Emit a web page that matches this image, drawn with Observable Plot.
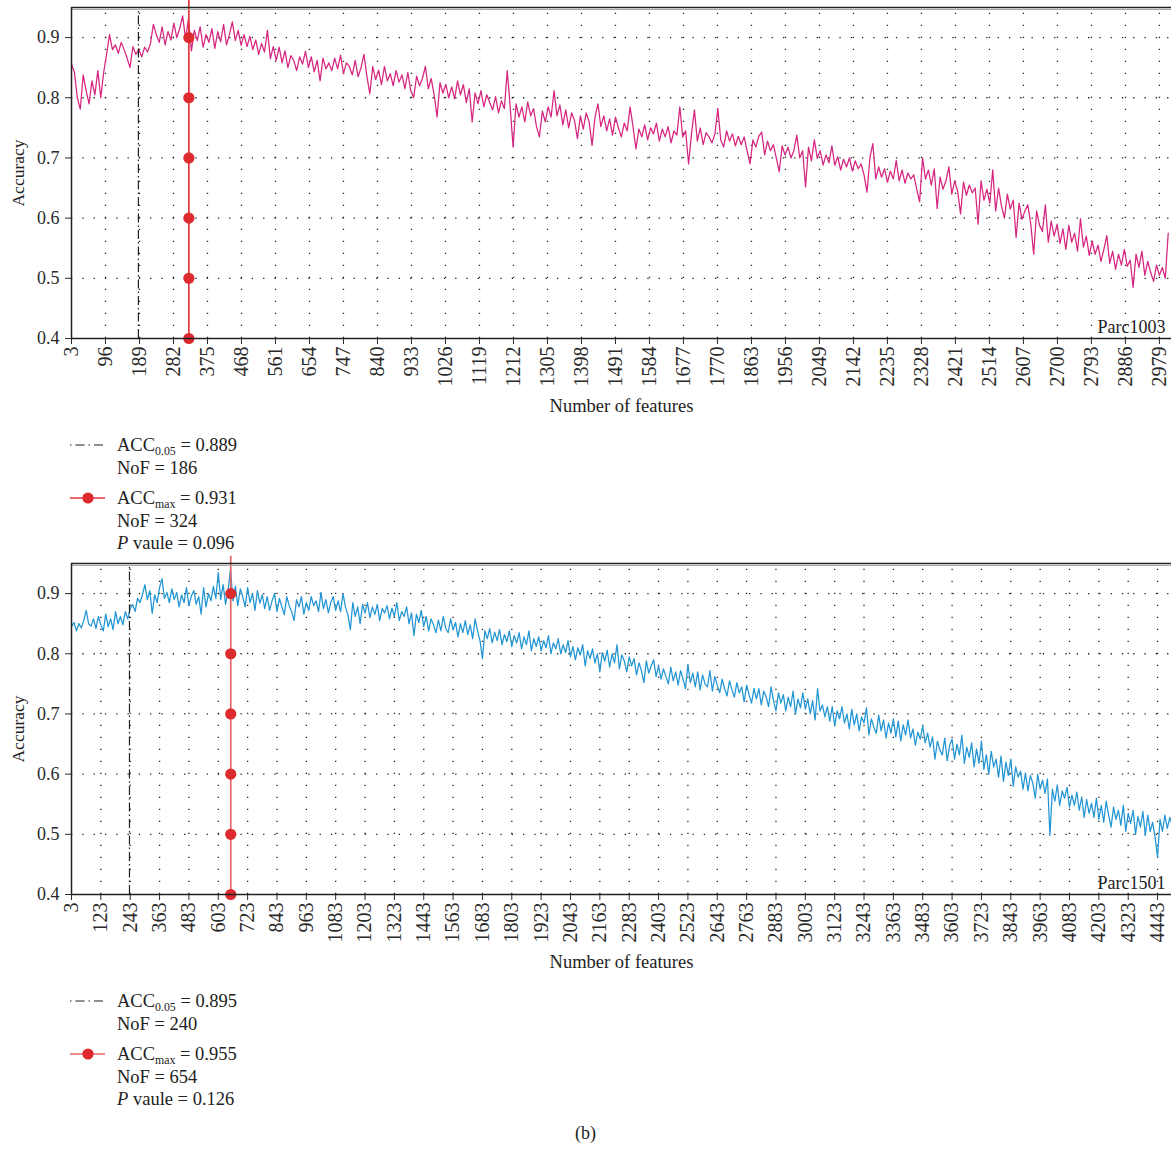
<!DOCTYPE html>
<html>
<head>
<meta charset="utf-8">
<script src="https://cdn.jsdelivr.net/npm/d3@7"></script>
<script src="https://cdn.jsdelivr.net/npm/@observablehq/plot@0.6"></script>
<style>
  html, body { margin: 0; padding: 0; background: #fff; }
  body { width: 1171px; height: 1149px; position: relative; overflow: hidden; font-family: "Liberation Serif", "DejaVu Serif", serif; color: #222; }
  .blk { position: absolute; left: 0; width: 1171px; }
  .leg { height: 136px; }
  .leg .txt { position: absolute; left: 117px; font-size: 18.5px; line-height: 22.5px; white-space: nowrap; }
  .leg sub { font-size: 0.64em; vertical-align: baseline; position: relative; top: 0.32em; line-height: 0; }
  .cap { font-size: 18px; text-align: center; }
</style>
</head>
<body>
<div id="p1" class="blk" style="top:0"></div>
<div id="l1" class="blk leg" style="top:420px"></div>
<div id="p2" class="blk" style="top:556px"></div>
<div id="l2" class="blk leg" style="top:976px"></div>
<div class="blk cap" style="top:1123px">(b)</div>
<script>
// ---------- data ----------
// Parc1003: accuracy read every 8 features, starting at 3 features
const step1003 = 8;
const acc1003 = [
  0.856,0.842,0.800,0.781,0.838,0.812,0.790,0.828,0.805,0.845,
  0.800,0.842,0.872,0.905,0.880,0.888,0.874,0.892,0.880,0.866,
  0.850,0.885,0.872,0.880,0.868,0.884,0.876,0.890,0.922,0.905,
  0.892,0.918,0.888,0.910,0.896,0.924,0.900,0.915,0.936,0.898,
  0.931,0.878,0.912,0.895,0.918,0.884,0.905,0.892,0.915,0.882,
  0.910,0.893,0.922,0.888,0.905,0.926,0.895,0.912,0.887,0.905,
  0.885,0.902,0.880,0.896,0.872,0.890,0.876,0.912,0.865,0.885,
  0.862,0.884,0.858,0.878,0.850,0.870,0.862,0.845,0.868,0.856,
  0.877,0.850,0.868,0.843,0.862,0.828,0.866,0.848,0.858,0.845,
  0.866,0.848,0.871,0.840,0.858,0.852,0.838,0.862,0.835,0.850,
  0.872,0.836,0.807,0.852,0.830,0.846,0.822,0.852,0.828,0.840,
  0.820,0.845,0.826,0.838,0.815,0.842,0.812,0.800,0.836,0.820,
  0.832,0.852,0.815,0.832,0.805,0.768,0.825,0.808,0.822,0.800,
  0.818,0.798,0.828,0.805,0.822,0.792,0.815,0.760,0.808,0.790,
  0.812,0.785,0.805,0.792,0.780,0.802,0.775,0.795,0.782,0.845,
  0.785,0.718,0.790,0.768,0.785,0.760,0.793,0.770,0.782,0.752,
  0.735,0.778,0.760,0.785,0.768,0.812,0.770,0.788,0.755,0.780,
  0.750,0.775,0.762,0.732,0.770,0.748,0.775,0.760,0.721,0.768,
  0.790,0.752,0.770,0.745,0.765,0.738,0.768,0.750,0.735,0.758,
  0.745,0.785,0.752,0.715,0.748,0.735,0.755,0.730,0.750,0.740,
  0.758,0.728,0.748,0.735,0.752,0.725,0.745,0.738,0.785,0.735,
  0.745,0.690,0.740,0.780,0.728,0.750,0.722,0.742,0.735,0.725,
  0.740,0.782,0.730,0.718,0.745,0.728,0.740,0.720,0.736,0.722,
  0.735,0.712,0.690,0.730,0.718,0.736,0.743,0.705,0.728,0.712,
  0.722,0.700,0.677,0.720,0.705,0.718,0.700,0.712,0.738,0.700,
  0.712,0.652,0.718,0.695,0.730,0.700,0.712,0.688,0.705,0.692,
  0.720,0.688,0.702,0.680,0.698,0.685,0.700,0.678,0.695,0.682,
  0.690,0.672,0.643,0.700,0.724,0.665,0.685,0.668,0.682,0.660,
  0.678,0.665,0.696,0.662,0.680,0.658,0.675,0.665,0.672,0.648,
  0.627,0.700,0.665,0.680,0.655,0.682,0.616,0.668,0.648,0.662,
  0.685,0.640,0.662,0.645,0.607,0.660,0.638,0.655,0.642,0.650,
  0.590,0.662,0.630,0.648,0.625,0.680,0.612,0.650,0.620,0.600,
  0.640,0.615,0.630,0.568,0.625,0.598,0.612,0.622,0.590,0.540,
  0.612,0.588,0.578,0.622,0.560,0.595,0.570,0.590,0.558,0.582,
  0.548,0.588,0.560,0.575,0.545,0.599,0.552,0.570,0.538,0.562,
  0.540,0.555,0.528,0.548,0.571,0.525,0.545,0.515,0.540,0.522,
  0.548,0.520,0.530,0.485,0.540,0.518,0.545,0.505,0.528,0.510,
  0.495,0.522,0.505,0.518,0.500,0.575
];
// Parc1501: accuracy read every 10 features, starting at 3 features
const step1501 = 10;
const acc1501 = [
  0.845,0.852,0.838,0.850,0.843,0.855,0.872,0.850,0.846,0.858,
  0.842,0.862,0.848,0.838,0.866,0.845,0.858,0.840,0.870,0.850,
  0.862,0.848,0.870,0.858,0.875,0.882,0.870,0.892,0.885,0.898,
  0.915,0.890,0.905,0.867,0.898,0.885,0.910,0.925,0.892,0.902,
  0.885,0.908,0.890,0.902,0.878,0.898,0.885,0.910,0.880,0.896,
  0.905,0.882,0.895,0.866,0.910,0.878,0.900,0.888,0.912,0.892,
  0.935,0.890,0.915,0.882,0.905,0.940,0.888,0.912,0.880,0.908,
  0.895,0.878,0.910,0.885,0.900,0.872,0.905,0.884,0.898,0.875,
  0.895,0.872,0.888,0.900,0.870,0.892,0.878,0.865,0.895,0.880,
  0.870,0.855,0.890,0.878,0.895,0.866,0.885,0.872,0.895,0.880,
  0.888,0.870,0.902,0.875,0.890,0.868,0.885,0.895,0.872,0.888,
  0.870,0.900,0.878,0.865,0.840,0.885,0.862,0.878,0.850,0.882,
  0.868,0.885,0.860,0.878,0.865,0.882,0.855,0.875,0.868,0.880,
  0.858,0.876,0.862,0.885,0.855,0.870,0.862,0.878,0.850,0.868,
  0.830,0.866,0.852,0.872,0.845,0.862,0.838,0.858,0.848,0.835,
  0.856,0.838,0.862,0.842,0.835,0.858,0.840,0.852,0.828,0.850,
  0.835,0.855,0.832,0.848,0.825,0.858,0.838,0.822,0.792,0.838,
  0.825,0.842,0.818,0.836,0.822,0.840,0.815,0.832,0.820,0.838,
  0.812,0.830,0.818,0.835,0.808,0.828,0.815,0.838,0.805,0.825,
  0.812,0.828,0.805,0.822,0.810,0.830,0.800,0.818,0.808,0.825,
  0.800,0.815,0.802,0.822,0.795,0.812,0.790,0.810,0.798,0.815,
  0.780,0.805,0.792,0.808,0.785,0.800,0.770,0.802,0.788,0.806,
  0.778,0.800,0.785,0.815,0.775,0.798,0.788,0.770,0.795,0.780,
  0.792,0.765,0.785,0.772,0.752,0.788,0.768,0.780,0.790,0.762,
  0.780,0.758,0.775,0.762,0.750,0.778,0.755,0.770,0.748,0.772,
  0.758,0.742,0.782,0.752,0.768,0.745,0.770,0.740,0.765,0.750,
  0.745,0.772,0.738,0.762,0.748,0.735,0.758,0.742,0.730,0.755,
  0.740,0.728,0.752,0.735,0.745,0.720,0.748,0.732,0.718,0.742,
  0.725,0.742,0.715,0.738,0.728,0.712,0.745,0.722,0.705,0.735,
  0.718,0.732,0.705,0.728,0.712,0.738,0.700,0.725,0.710,0.735,
  0.708,0.725,0.700,0.722,0.690,0.742,0.705,0.715,0.695,0.712,
  0.688,0.712,0.680,0.705,0.692,0.712,0.685,0.700,0.675,0.708,
  0.682,0.700,0.672,0.695,0.685,0.710,0.665,0.692,0.678,0.668,
  0.698,0.672,0.690,0.660,0.685,0.668,0.692,0.662,0.688,0.655,
  0.682,0.665,0.690,0.660,0.675,0.648,0.670,0.658,0.680,0.652,
  0.668,0.645,0.662,0.625,0.655,0.640,0.632,0.660,0.622,0.648,
  0.658,0.625,0.650,0.632,0.665,0.618,0.645,0.628,0.652,0.612,
  0.642,0.618,0.655,0.608,0.632,0.600,0.638,0.612,0.625,0.595,
  0.630,0.588,0.620,0.598,0.625,0.580,0.612,0.595,0.605,0.575,
  0.602,0.572,0.598,0.585,0.560,0.600,0.575,0.590,0.568,0.592,
  0.498,0.575,0.555,0.582,0.548,0.572,0.560,0.578,0.545,0.565,
  0.548,0.570,0.540,0.562,0.528,0.558,0.535,0.552,0.528,0.560,
  0.525,0.548,0.520,0.555,0.532,0.512,0.545,0.525,0.540,0.515,
  0.548,0.505,0.535,0.518,0.540,0.500,0.530,0.512,0.538,0.498,
  0.532,0.505,0.520,0.495,0.462,0.525,0.505,0.532,0.510,0.528,
  0.515
];
const ticks1003 = [3,96,189,282,375,468,561,654,747,840,933,1026,1119,1212,1305,1398,1491,1584,1677,1770,1863,1956,2049,2142,2235,2328,2421,2514,2607,2700,2793,2886,2979];
const ticks1501 = [3,123,243,363,483,603,723,843,963,1083,1203,1323,1443,1563,1683,1803,1923,2043,2163,2283,2403,2523,2643,2763,2883,3003,3123,3243,3363,3483,3603,3723,3843,3963,4083,4203,4323,4443];
const yTicks = [0.4,0.5,0.6,0.7,0.8,0.9];
const legend1003 = { acc05: "0.889", nof05: 186, accMax: "0.931", nofMax: 324, p: "0.096" };
const legend1501 = { acc05: "0.895", nof05: 240, accMax: "0.955", nofMax: 654, p: "0.126" };

// ---------- drawing ----------
const RED = "#dc2a2e";
function panel({acc, step, maxX, ticks, color, leg, name, redLine}) {
  const data = acc.map((v, i) => ({nof: 3 + i * step, acc: v}));
  const svg = Plot.plot({
    width: 1171, height: 420,
    marginLeft: 71, marginRight: 0, marginTop: 7, marginBottom: 82,
    style: {fontFamily: "Liberation Serif, serif", fontSize: "18px", color: "#2a2a2a", background: "#fff", overflow: "visible"},
    x: {domain: [3, maxX], ticks, tickFormat: "d", tickRotate: -90, tickSize: 6, tickPadding: 2, label: null},
    y: {domain: [0.4, 0.95], ticks: yTicks, tickFormat: ".1f", tickSize: 6, tickPadding: 6, label: null},
    marks: [
      Plot.ruleX(ticks.slice(1), {y1: 0.4, y2: 0.95, stroke: "#222", strokeWidth: 1.3, strokeDasharray: "1.3,10.7"}),
      Plot.ruleY(yTicks.slice(1), {stroke: "#222", strokeWidth: 1.3, strokeDasharray: "1.3,10"}),
      Plot.line(data, {x: "nof", y: "acc", stroke: color, strokeWidth: 1.25, clip: true}),
      Plot.ruleX([leg.nof05], {y1: 0.4, y2: 0.95, stroke: "#222", strokeWidth: 1.2, strokeDasharray: "9,3,1.5,3"}),
      Plot.ruleX([leg.nofMax], {y1: 0.4, y2: 0.962, stroke: redLine, strokeWidth: 1.7}),
      Plot.dot(yTicks.map(y => ({x: leg.nofMax, y})), {x: "x", y: "y", r: 5.6, fill: RED, stroke: "none"}),
      Plot.ruleY([0.95], {stroke: "#aaa", strokeWidth: 1, dy: 2}),
      Plot.ruleY([0.95], {stroke: "#222", strokeWidth: 1.5}),
      Plot.ruleY([0.4], {stroke: "#222", strokeWidth: 1.5}),
      Plot.ruleX([3], {y1: 0.4, y2: 0.95, stroke: "#222", strokeWidth: 1.5}),
      Plot.text([name], {frameAnchor: "bottom-right", dx: -6, dy: -6, textAnchor: "end", fontSize: 18, fill: "#222"}),
      Plot.text(["Number of features"], {frameAnchor: "bottom", dy: 73, textAnchor: "middle", fontSize: 18.5, fill: "#222"}),
      Plot.text(["Accuracy"], {frameAnchor: "left", dx: -53, rotate: -90, textAnchor: "middle", fontSize: 17.5, fill: "#222"})
    ]
  });
  // enlarge the axis tick labels (x: integers, y: one-decimal numbers)
  d3.select(svg).selectAll("text").each(function() {
    const t = this.textContent.trim();
    if (/^\d+$/.test(t)) this.style.fontSize = "20px";
    else if (/^0\.\d$/.test(t)) this.style.fontSize = "18px";
  });
  return svg;
}

function legendHTML(leg, redLine) {
  return `
  <svg style="position:absolute;left:66px;top:0" width="44" height="136">
    <line x1="4" x2="39" y1="25" y2="25" stroke="#222" stroke-width="1.2" stroke-dasharray="1.5,4,9,4"/>
    <line x1="4" x2="39" y1="78" y2="78" stroke="${redLine}" stroke-width="1.7"/>
    <circle cx="22" cy="78" r="5.6" fill="${RED}"/>
  </svg>
  <div class="txt" style="top:14px">ACC<sub>0.05</sub> = ${leg.acc05}<br>NoF = ${leg.nof05}</div>
  <div class="txt" style="top:67px">ACC<sub>max</sub> = ${leg.accMax}<br>NoF = ${leg.nofMax}<br><i>P</i> vaule = ${leg.p}</div>`;
}

document.getElementById("p1").append(panel({acc: acc1003, step: step1003, maxX: 3012, ticks: ticks1003, color: "#d6257f", leg: legend1003, name: "Parc1003", redLine: "#e0363a"}));
document.getElementById("p2").append(panel({acc: acc1501, step: step1501, maxX: 4500, ticks: ticks1501, color: "#2295d4", leg: legend1501, name: "Parc1501", redLine: "#e46467"}));
document.getElementById("l1").innerHTML = legendHTML(legend1003, "#e0363a");
document.getElementById("l2").innerHTML = legendHTML(legend1501, "#e46467");
</script>
</body>
</html>
